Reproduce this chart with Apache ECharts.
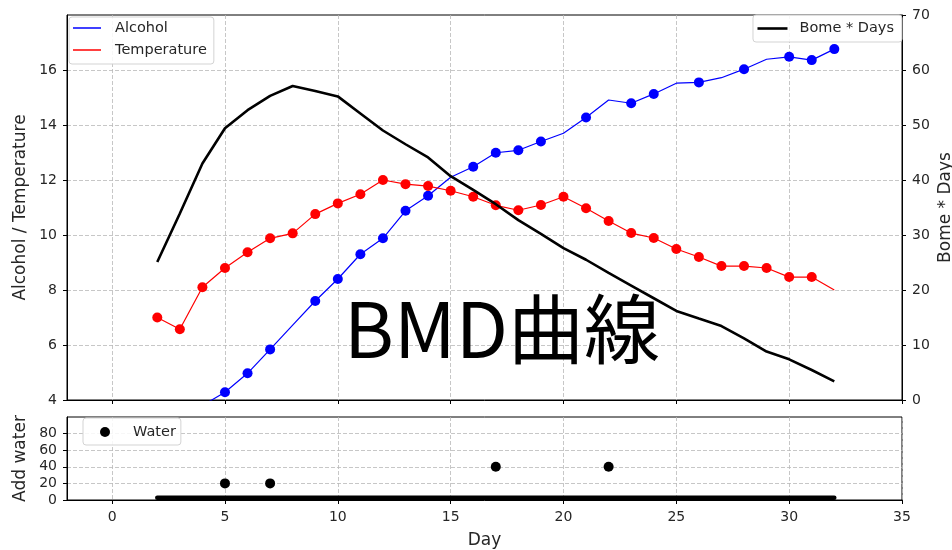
<!DOCTYPE html>
<html>
<head>
<meta charset="utf-8">
<script src="https://cdn.jsdelivr.net/npm/echarts@6/dist/echarts.min.js"></script>
<style>html,body{margin:0;padding:0;background:#fff}#c{width:952px;height:550px}</style>
</head>
<body>
<div id="c"></div>
<script>
// ---- data ----
const days        = [2,3,4,5,6,7,8,9,10,11,12,13,14,15,16,17,18,19,20,21,22,23,24,25,26,27,28,29,30,31,32];
const alcohol     = [null,null,3.8,4.28,4.97,5.84,6.72,7.6,8.4,9.3,9.88,10.88,11.43,12.1,12.48,12.99,13.08,13.4,13.7,14.27,14.91,14.79,15.13,15.52,15.55,15.72,16.03,16.39,16.48,16.36,16.76];
const alcoholMarkedDays = [5,6,7,9,10,11,12,13,14,16,17,18,19,21,23,24,26,28,30,31,32];
const temperature = [7.0,6.57,8.1,8.8,9.37,9.88,10.06,10.76,11.15,11.48,12.0,11.85,11.78,11.61,11.39,11.08,10.9,11.09,11.39,10.97,10.51,10.07,9.89,9.49,9.2,8.87,8.87,8.8,8.47,8.47,8.0];
const temperatureMarkedDays = [2,3,4,5,6,7,8,9,10,11,12,13,14,15,16,17,18,19,20,21,22,23,24,25,26,27,28,29,30,31];
const bomeDays    = [25.1,33.9,43.0,49.4,52.7,55.3,57.1,56.2,55.2,52.1,49.0,46.5,44.1,40.7,38.2,35.6,32.7,30.2,27.6,25.5,23.1,20.8,18.5,16.2,14.8,13.45,11.2,8.8,7.4,5.45,3.4];
const water       = [0,0,0,20,0,20,0,0,0,0,0,0,0,0,0,40,0,0,0,0,40,0,0,0,0,0,0,0,0,0,0];

const xTicks      = [0,5,10,15,20,25,30,35];
const leftTicks   = [4,6,8,10,12,14,16];
const rightTicks  = [0,10,20,30,40,50,60,70];
const waterTicks  = [0,20,40,60,80];

// ---- build series data ----
function lineData(values, marked) {
  const out = [];
  days.forEach((d, i) => {
    if (values[i] == null) return;
    out.push({ value: [d, values[i]], symbol: marked.indexOf(d) >= 0 ? 'circle' : 'none' });
  });
  return out;
}
const alcoholData = lineData(alcohol, alcoholMarkedDays);
const temperatureData = lineData(temperature, temperatureMarkedDays);
const bomeData = days.map((d, i) => [d, bomeDays[i]]);
const waterEvents = days.map((d, i) => [d, water[i]]).filter(p => p[1] > 0);
const waterZero = days.map((d, i) => [d, water[i]]).filter(p => p[1] === 0);

const FONT = 'DejaVu Sans';
const TXT = '#262626';
const gridLine = { show: true, lineStyle: { color: '#b9b9b9', width: 0.8, type: [4, 2] } };
const axisLine = { show: true, onZero: false, lineStyle: { color: '#000', width: 1 } };
const tick = (vals) => ({ show: true, inside: false, length: 4, lineStyle: { color: '#000', width: 1 }, customValues: vals });
const label = (vals, extra) => Object.assign({ show: true, customValues: vals, fontSize: 14, color: TXT, fontFamily: FONT }, extra || {});
const nameStyle = { fontSize: 17, color: TXT, fontFamily: FONT };

const chart = echarts.init(document.getElementById('c'), null, { renderer: 'canvas' });
chart.setOption({
  animation: false,
  backgroundColor: '#fff',
  title: {
    text: 'BMD曲線', left: 344, top: 291, padding: 0,
    textStyle: { fontSize: 76, fontWeight: 'normal', fontFamily: 'Noto Sans CJK JP', color: '#000' }
  },
  grid: [
    { left: 67, right: 50, top: 15, height: 385, show: true, borderColor: '#000', borderWidth: 1, outerBoundsMode: 'none', containLabel: false },
    { left: 67, right: 50, top: 417, height: 83, show: true, borderColor: '#000', borderWidth: 1, outerBoundsMode: 'none', containLabel: false }
  ],
  legend: [
    {
      data: ['Alcohol', 'Temperature'], left: 69, top: 17, orient: 'vertical', selectedMode: false,
      icon: 'rect', itemWidth: 28, itemHeight: 1.5, itemGap: 6, padding: [3, 7, 6, 4],
      borderColor: '#d3d3d3', borderWidth: 1, borderRadius: 3, backgroundColor: 'rgba(255,255,255,0.85)',
      textStyle: { fontSize: 14.5, lineHeight: 16, color: TXT, fontFamily: FONT, padding: [0, 0, 0, 9] }
    },
    {
      data: ['Bome * Days'], right: 50, top: 15, selectedMode: false,
      icon: 'rect', itemWidth: 30, itemHeight: 2.6, padding: [5.5, 8, 5.5, 4.5],
      borderColor: '#d3d3d3', borderWidth: 1, borderRadius: 3, backgroundColor: 'rgba(255,255,255,0.85)',
      textStyle: { fontSize: 14.5, lineHeight: 16, color: TXT, fontFamily: FONT, padding: [0, 0, 0, 7] }
    },
    {
      data: ['Water'], left: 83, top: 418, selectedMode: false,
      icon: 'circle', itemWidth: 10, itemHeight: 10, padding: [6, 5, 5, 17],
      borderColor: '#d3d3d3', borderWidth: 1, borderRadius: 3, backgroundColor: 'rgba(255,255,255,0.85)',
      itemStyle: { color: '#000', opacity: 1 },
      textStyle: { fontSize: 14.5, lineHeight: 16, color: TXT, fontFamily: FONT, padding: [0, 0, 0, 18] }
    }
  ],
  xAxis: [
    {
      gridIndex: 0, type: 'value', min: -2, max: 35,
      axisLine: axisLine, axisTick: tick(xTicks), axisLabel: { show: false, customValues: xTicks },
      splitLine: gridLine
    },
    {
      gridIndex: 1, type: 'value', min: -2, max: 35,
      axisLine: axisLine, axisTick: tick(xTicks), axisLabel: label(xTicks, { margin: 10 }),
      splitLine: gridLine,
      name: 'Day', nameLocation: 'middle', nameGap: 32, nameMoveOverlap: false, nameTextStyle: nameStyle
    }
  ],
  yAxis: [
    {
      gridIndex: 0, type: 'value', min: 4, max: 18, position: 'left',
      axisLine: axisLine, axisTick: tick(leftTicks), axisLabel: label(leftTicks, { margin: 10 }),
      splitLine: gridLine,
      name: 'Alcohol / Temperature', nameLocation: 'middle', nameGap: 38, nameMoveOverlap: false, nameTextStyle: nameStyle
    },
    {
      gridIndex: 0, type: 'value', min: 0, max: 70, position: 'right',
      axisLine: axisLine, axisTick: tick(rightTicks), axisLabel: label(rightTicks, { margin: 10 }),
      splitLine: { show: false },
      name: 'Bome * Days', nameLocation: 'middle', nameGap: 35, nameRotate: 90, nameMoveOverlap: false, nameTextStyle: nameStyle
    },
    {
      gridIndex: 1, type: 'value', min: 0, max: 100, position: 'left',
      axisLine: axisLine, axisTick: tick(waterTicks), axisLabel: label(waterTicks, { margin: 10 }),
      splitLine: gridLine,
      name: 'Add water', nameLocation: 'middle', nameGap: 38, nameMoveOverlap: false, nameTextStyle: nameStyle
    },
    { gridIndex: 1, type: 'value', min: -2.7, max: 97.3, show: false, splitLine: { show: false } }
  ],
  series: [
    {
      name: 'Alcohol', type: 'line', xAxisIndex: 0, yAxisIndex: 0, data: alcoholData,
      symbolSize: 10, lineStyle: { color: '#0000ff', width: 1.2 }, itemStyle: { color: '#0000ff' }, z: 2
    },
    {
      name: 'Temperature', type: 'line', xAxisIndex: 0, yAxisIndex: 0, data: temperatureData,
      symbolSize: 10, lineStyle: { color: '#ff0000', width: 1.2 }, itemStyle: { color: '#ff0000' }, z: 2
    },
    {
      name: 'Bome * Days', type: 'line', xAxisIndex: 0, yAxisIndex: 1, data: bomeData,
      symbol: 'none', lineStyle: { color: '#000', width: 2.6 }, itemStyle: { color: '#000' }, z: 3
    },
    {
      name: 'Water', type: 'scatter', xAxisIndex: 1, yAxisIndex: 2, data: waterEvents,
      symbolSize: 10, itemStyle: { color: '#000', opacity: 1 }, z: 3
    },
    {
      name: 'WaterZero', type: 'line', xAxisIndex: 1, yAxisIndex: 3, data: waterZero,
      symbol: 'none', lineStyle: { color: '#000', width: 4.5, cap: 'round' }, z: 3
    }
  ]
});
</script>
</body>
</html>
